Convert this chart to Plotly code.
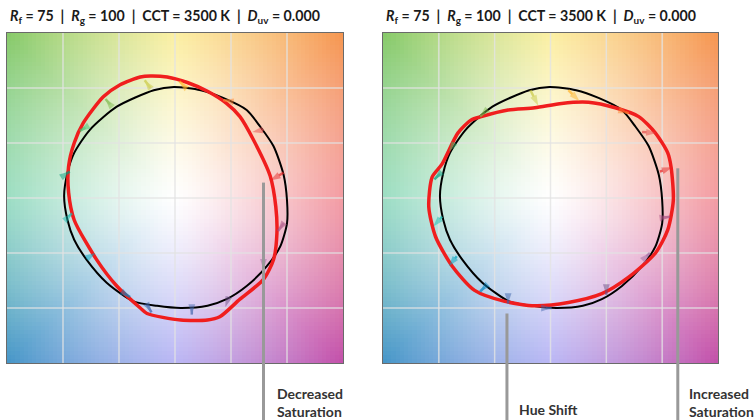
import numpy as np
import plotly.graph_objects as go

# ---------------- data ----------------
# reference (black) gamut, normalised a'/b' coordinates
ref_x = [-0.01, 0.23, 0.43, 0.64, 0.76, 0.88, 0.97, 1.00, 1.00, 0.94, 0.82, 0.64, 0.46, 0.29, 0.05,
         -0.16, -0.37, -0.61, -0.79, -0.90, -0.96, -0.99, -0.96, -0.90, -0.76, -0.52, -0.19]
ref_y = [1.01, 0.98, 0.91, 0.80, 0.65, 0.47, 0.21, -0.02, -0.23, -0.44, -0.62, -0.80, -0.92, -0.98, -1.00,
         -0.98, -0.94, -0.77, -0.56, -0.38, -0.20, 0.02, 0.23, 0.41, 0.62, 0.83, 0.98]

# test (red) gamut, left panel
left_x = [-0.07, 0.11, 0.29, 0.46, 0.58, 0.70, 0.85, 0.90, 0.91, 0.88, 0.79, 0.58, 0.40, 0.29, 0.05,
          -0.25, -0.31, -0.52, -0.70, -0.90, -0.95, -0.95, -0.90, -0.82, -0.64, -0.49, -0.31, -0.22]
left_y = [1.10, 1.05, 0.97, 0.86, 0.74, 0.53, 0.20, -0.08, -0.32, -0.56, -0.74, -0.92, -1.08, -1.11, -1.11,
          -1.05, -1.00, -0.80, -0.56, -0.20, 0.05, 0.29, 0.50, 0.68, 0.92, 1.03, 1.10, 1.11]

# test (red) gamut, right panel
right_x = [0.10, 0.34, 0.58, 0.79, 0.94, 1.05, 1.08, 1.10, 1.05, 0.94, 0.70, 0.46, 0.16, -0.14, -0.41,
           -0.68, -0.88, -1.03, -1.09, -1.06, -0.97, -0.83, -0.71, -0.62, -0.38, -0.14]
right_y = [0.86, 0.87, 0.82, 0.74, 0.59, 0.41, 0.28, -0.02, -0.29, -0.50, -0.72, -0.87, -0.95, -0.98, -0.94,
           -0.84, -0.62, -0.35, -0.08, 0.19, 0.31, 0.59, 0.71, 0.74, 0.80, 0.82]

# hue-bin arrows (reference point -> test point), 16 bins
left_arrow_x0 = [0.97, 0.79, 0.49, 0.10, -0.22, -0.58, -0.80, -0.97, -0.95, -0.79, -0.45, -0.25, 0.15, 0.48, 0.79, 0.97]
left_arrow_y0 = [0.23, 0.62, 0.88, 1.00, 1.00, 0.85, 0.64, 0.22, -0.17, -0.55, -0.87, -0.97, -1.00, -0.90, -0.62, -0.23]
left_arrow_x1 = [0.85, 0.69, 0.43, 0.04, -0.27, -0.62, -0.85, -0.94, -0.92, -0.71, -0.40, -0.21, 0.15, 0.45, 0.79, 0.92]
left_arrow_y1 = [0.16, 0.60, 0.89, 1.06, 1.07, 0.90, 0.61, 0.24, -0.14, -0.50, -0.90, -1.04, -1.06, -0.99, -0.65, -0.30]

right_arrow_x0 = [0.98, 0.82, 0.67, 0.16, -0.18, -0.59, -0.86, -0.99, -0.97, -0.84, -0.59, -0.38, -0.04, 0.50, 0.86, 1.00]
right_arrow_y0 = [0.24, 0.60, 0.78, 0.98, 0.98, 0.78, 0.50, 0.22, -0.17, -0.53, -0.81, -0.93, -1.00, -0.85, -0.53, -0.18]
right_arrow_x1 = [1.09, 0.95, 0.70, 0.26, -0.11, -0.63, -0.91, -1.04, -1.05, -0.91, -0.63, -0.38, 0.01, 0.50, 0.89, 1.07]
right_arrow_y1 = [0.28, 0.59, 0.77, 0.88, 0.84, 0.74, 0.42, 0.17, -0.26, -0.62, -0.85, -0.96, -1.00, -0.88, -0.50, -0.17]

bin_colors = ["#e62828", "#e74b4b", "#fb812e", "#ffb529", "#cbca46", "#7eb94c", "#41c06d", "#009c7c",
              "#16bcb0", "#00a4bf", "#0085c3", "#3b62aa", "#4568ae", "#6a4e85", "#9d69a1", "#a74f81"]

title_text = ("<b><i>R</i><sub>f</sub> = 75 &nbsp;| &nbsp;<i>R</i><sub>g</sub> = 100 &nbsp;| &nbsp;"
              "CCT = 3500 K &nbsp;| &nbsp;<i>D</i><sub>uv</sub> = 0.000</b>")

callout_panel = [1, 2, 2]
callout_x = [0.79, -0.39, 1.14]
callout_top = [0.14, -1.05, 0.27]
callout_text = ["<b>Decreased<br>Saturation</b>", "<b>Hue Shift</b>", "<b>Increased<br>Saturation</b>"]
callout_text_px = [(275, 402), (517, 409), (687, 402)]

# ---------------- background (hue-dependent colour field) ----------------
N = 80
g = -1.5 + (np.arange(N) + 0.5) * 3.0 / N
GX, GY = np.meshgrid(g, g)
ang = np.degrees(np.arctan2(GY, GX)) % 360
rad = np.hypot(GX, GY)
anchor_ang = [0, 45, 90, 135, 180, 225, 270, 315, 360]
anchor_rgb = np.array([[238, 105, 115], [246, 150, 80], [250, 232, 115], [135, 202, 105],
                       [105, 205, 165], [70, 150, 200], [150, 145, 240], [195, 80, 170], [238, 105, 115]])
w = np.clip(rad / 2.12, 0, 1) ** 1.2
img = np.zeros((N, N, 3))
for c in range(3):
    full = np.interp(ang, anchor_ang, anchor_rgb[:, c])
    img[:, :, c] = 255 * (1 - w) + full * w
img = np.clip(img, 0, 255).astype(np.uint8)

# ---------------- figure ----------------
W, H = 755, 420
ml, mr, mt, mb = 7, 37, 33, 57
pw, ph = W - ml - mr, H - mt - mb
dom1 = [0, 336 / pw]
dom2 = [376 / pw, 1]

fig = go.Figure()
grid_vals = [-1, -0.5, 0, 0.5, 1]
gx, gy = [], []
for v in grid_vals:
    gx += [v, v, None, -1.5, 1.5, None]
    gy += [-1.5, 1.5, None, v, v, None]

arrow_sets = [(left_arrow_x0, left_arrow_y0, left_arrow_x1, left_arrow_y1),
              (right_arrow_x0, right_arrow_y0, right_arrow_x1, right_arrow_y1)]

for i, (tx, ty) in enumerate([(left_x, left_y), (right_x, right_y)]):
    xa = "x" if i == 0 else "x2"
    ya = "y" if i == 0 else "y2"
    fig.add_trace(go.Image(z=img, x0=g[0], dx=3.0 / N, y0=g[0], dy=3.0 / N, xaxis=xa, yaxis=ya,
                           zsmooth="fast", hoverinfo="skip"))
    fig.add_trace(go.Scatter(x=gx, y=gy, mode="lines", xaxis=xa, yaxis=ya,
                             line=dict(color="rgba(228,228,228,0.8)", width=1.5), hoverinfo="skip"))
    fig.add_trace(go.Scatter(x=ref_x + ref_x[:1], y=ref_y + ref_y[:1], mode="lines", xaxis=xa, yaxis=ya,
                             line=dict(color="black", width=2, shape="spline", smoothing=0.7)))
    fig.add_trace(go.Scatter(x=tx + tx[:1], y=ty + ty[:1], mode="lines", xaxis=xa, yaxis=ya,
                             line=dict(color="#f01e1e", width=3.5, shape="spline", smoothing=0.7)))
    x0s, y0s, x1s, y1s = arrow_sets[i]
    for k in range(16):
        fig.add_trace(go.Scatter(x=[x0s[k], x1s[k]], y=[y0s[k], y1s[k]], mode="lines+markers",
                                 xaxis=xa, yaxis=ya, opacity=0.7,
                                 line=dict(color=bin_colors[k], width=2.5),
                                 marker=dict(symbol=["circle", "arrow"], size=[0, 11], angleref="previous",
                                             color=bin_colors[k], line=dict(width=0)),
                                 hoverinfo="skip"))

annotations = []
for d in (dom1, dom2):
    annotations.append(dict(x=d[0] + 1 / pw, y=1, xref="paper", yref="paper", xanchor="left", yanchor="bottom",
                            yshift=5, text=title_text, showarrow=False,
                            font=dict(family="Lato", size=14.2, color="#1a1a1a")))

def px_to_paper_x(px):
    return (px - ml) / pw

def px_to_paper_y(py):
    return 1 - (py - mt) / ph

shapes = []
for p, cx, ct in zip(callout_panel, callout_x, callout_top):
    d = dom1 if p == 1 else dom2
    xp = d[0] + (cx + 1.5) / 3 * (d[1] - d[0])
    yp = (ct + 1.5) / 3
    shapes.append(dict(type="line", xref="paper", yref="paper", x0=xp, x1=xp, y0=yp,
                       y1=px_to_paper_y(H + 2), line=dict(color="#999999", width=3), layer="above"))

for txt, (tx, ty) in zip(callout_text, callout_text_px):
    annotations.append(dict(x=px_to_paper_x(tx), y=px_to_paper_y(ty), xref="paper", yref="paper",
                            xanchor="left", yanchor="middle", align="left", text=txt, showarrow=False,
                            font=dict(family="Lato", size=14, color="#333333")))

axis_common = dict(range=[-1.5, 1.5], showgrid=False, zeroline=False, showticklabels=False, ticks="",
                   showline=True, mirror=True, linecolor="#6a6a6a", linewidth=1, fixedrange=True)

fig.update_layout(
    width=W, height=H, margin=dict(l=ml, r=mr, t=mt, b=mb),
    paper_bgcolor="white", plot_bgcolor="white", showlegend=False,
    xaxis=dict(domain=dom1, anchor="y", **axis_common),
    yaxis=dict(domain=[0, 1], anchor="x", scaleanchor=False, autorange=False, **axis_common),
    xaxis2=dict(domain=dom2, anchor="y2", **axis_common),
    yaxis2=dict(domain=[0, 1], anchor="x2", scaleanchor=False, autorange=False, **axis_common),
    annotations=annotations, shapes=shapes,
)

fig.write_html("out.html", config={"displayModeBar": False},
               post_script="document.body.style.margin='0';document.body.style.overflow='hidden';")
